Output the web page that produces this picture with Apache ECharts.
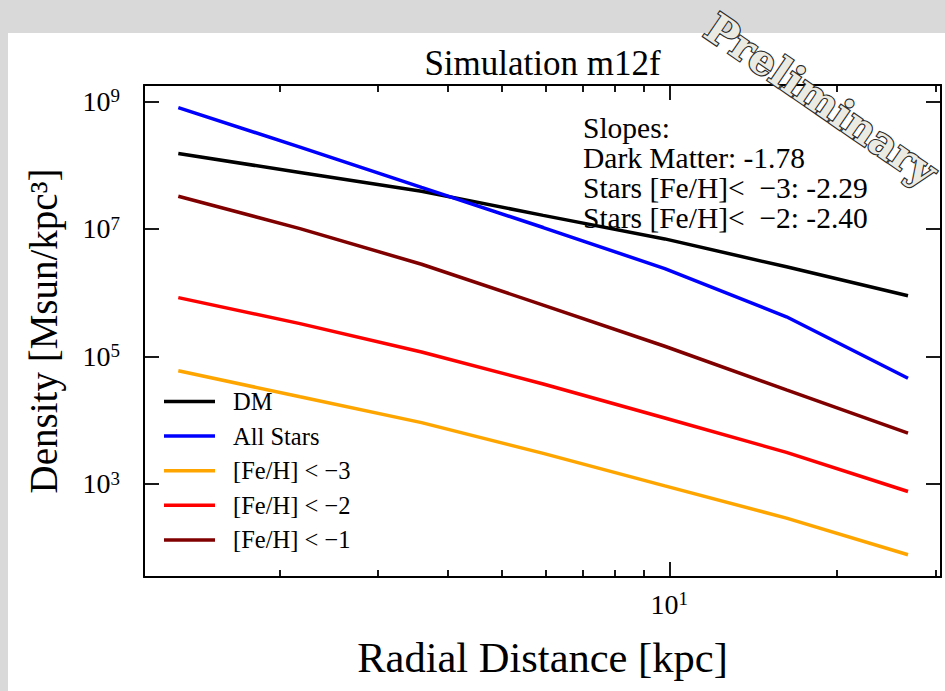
<!DOCTYPE html>
<html><head><meta charset="utf-8">
<script src="https://cdn.jsdelivr.net/npm/echarts@6/dist/echarts.min.js"></script>
<style>html,body{margin:0;padding:0;background:#d9d9d9}#c{width:945px;height:691px}</style>
</head><body><div id="c"></div>
<script>
// ---- data ----
const radius = [1.318, 2.178, 3.597, 5.943, 9.817, 16.22, 26.79];
const dm = [1.52e8, 7.69e7, 3.89e7, 1.63e7, 6.96e6, 2.54e6, 8.91e5];
const allStars = [7.97e8, 1.92e8, 4.47e7, 1.05e7, 2.38e6, 4.18e5, 4.53e4];
const feh3 = [5.96e4, 2.32e4, 9.12e3, 3.00e3, 929, 290, 77];
const feh2 = [8.34e5, 3.26e5, 1.17e5, 3.68e4, 1.08e4, 3.11e3, 757];
const feh1 = [3.25e7, 1.01e7, 2.79e6, 6.37e5, 1.44e5, 2.97e4, 6.22e3];
const seriesNames = ['DM', 'All Stars', '[Fe/H] < \u22123', '[Fe/H] < \u22122', '[Fe/H] < \u22121'];
const xMajorTicks = [10];
const xMinorTicks = [2, 3, 4, 5, 6, 7, 8, 9, 20, 30];
const yMajorTicks = [1e3, 1e5, 1e7, 1e9];
const slopeLines = ['Slopes:', 'Dark Matter: -1.78', 'Stars [Fe/H]<  \u22123: -2.29', 'Stars [Fe/H]<  \u22122: -2.40'];
const titleText = 'Simulation m12f';
const xName = 'Radial Distance [kpc]';
const yName = 'Density [Msun/kpc\u00b3]';
const xRange = [1.144, 30.7];
const yRange = [34.5, 1.81e9];

// ---- chart ----
const chart = echarts.init(document.getElementById('c'), null, {renderer: 'svg', width: 945, height: 691});
const serif = '"Liberation Serif", "Times New Roman", serif';
const K = '#000';
const colors = ['#000000', '#0000ff', '#ffa500', '#ff0000', '#800000'];
const values = [dm, allStars, feh3, feh2, feh1];

function expLabel(v) {
  const e = Math.round(Math.log10(v));
  return '{b|10}{s|' + e + '}';
}
const richLab = {
  b: {fontFamily: serif, fontSize: 28, color: K, lineHeight: 30},
  s: {fontFamily: serif, fontSize: 19, color: K, lineHeight: 18, verticalAlign: 'top'}
};
const box = {left: 144, right: 4, top: 85, bottom: 114};

function xAx(grid, pos, ticks, len, showLine, showLabel) {
  return {
    type: 'log', logBase: 10, gridIndex: grid, position: pos, min: xRange[0], max: xRange[1],
    name: (grid === 0 && pos === 'bottom') ? xName : '',
    nameLocation: 'middle', nameGap: 59,
    nameTextStyle: {fontFamily: serif, fontSize: 42.5, color: K},
    axisLine: {show: showLine, onZero: false, lineStyle: {color: K, width: 2}},
    axisTick: {show: true, inside: true, length: len, lineStyle: {color: K, width: 1.8}, customValues: ticks},
    axisLabel: {show: showLabel, margin: 12, customValues: ticks, formatter: expLabel, rich: richLab},
    splitLine: {show: false}, minorTick: {show: false}, minorSplitLine: {show: false}
  };
}
function yAx(grid, pos, showLabel) {
  return {
    type: 'log', logBase: 10, gridIndex: grid, position: pos, min: yRange[0], max: yRange[1],
    name: showLabel ? yName : '', nameLocation: 'middle', nameGap: 81, nameRotate: 90,
    nameTextStyle: {fontFamily: serif, fontSize: 39, color: K},
    axisLine: {show: true, onZero: false, lineStyle: {color: K, width: 2}},
    axisTick: {show: true, inside: true, length: 15, lineStyle: {color: K, width: 1.8}, customValues: yMajorTicks},
    axisLabel: {show: showLabel, margin: 24, customValues: yMajorTicks, formatter: expLabel, rich: richLab},
    splitLine: {show: false}, minorTick: {show: false}, minorSplitLine: {show: false}
  };
}

const option = {
  animation: false,
  grid: [
    Object.assign({outerBoundsMode: 'none', containLabel: false}, box),
    Object.assign({outerBoundsMode: 'none', containLabel: false}, box)
  ],
  xAxis: [
    xAx(0, 'bottom', xMajorTicks, 15, true, true),
    xAx(0, 'top', xMajorTicks, 15, true, false),
    xAx(1, 'bottom', xMinorTicks, 7, false, false),
    xAx(1, 'top', xMinorTicks, 7, false, false)
  ],
  yAxis: [
    yAx(0, 'left', true),
    yAx(0, 'right', false),
    {type: 'value', gridIndex: 1, min: 0, max: 1, show: false}
  ],
  legend: {
    show: true, orient: 'vertical', left: 164, top: 389, padding: 0,
    itemWidth: 51, itemHeight: 3.5, itemGap: 9.6, icon: 'rect', selectedMode: false,
    data: seriesNames,
    textStyle: {fontFamily: serif, fontSize: 24.5, color: K, lineHeight: 25, padding: [0, 0, 0, 13]}
  },
  series: values.map((arr, i) => ({
    type: 'line', name: seriesNames[i], xAxisIndex: 0, yAxisIndex: 0,
    data: radius.map((r, j) => [r, arr[j]]),
    symbol: 'none', showSymbol: false, smooth: false,
    lineStyle: {color: colors[i], width: 3.5},
    itemStyle: {color: colors[i]},
    emphasis: {disabled: true}
  })),
  graphic: [
    {type: 'rect', silent: true, z: -100, shape: {x: 0, y: 0, width: 945, height: 691}, style: {fill: '#d9d9d9'}},
    {type: 'rect', silent: true, z: -99, shape: {x: 8, y: 33, width: 937, height: 658}, style: {fill: '#ffffff'}},
    {type: 'text', silent: true, z: 10, x: 542.5, y: 63,
      style: {text: titleText, fontFamily: serif, fontSize: 35, fill: K, align: 'center', verticalAlign: 'middle'}},
    {type: 'text', silent: true, z: 10, x: 583, y: 113,
      style: {text: slopeLines.join('\n'), fontFamily: serif, fontSize: 29.5, lineHeight: 30, fill: K, align: 'left', verticalAlign: 'top'}},
    {type: 'text', silent: true, z: 100, x: 821, y: 100, rotation: -0.6,
      style: {text: 'Preliminary', fontFamily: '"DejaVu Serif", serif', fontWeight: 'bold', fontSize: 41, fill: '#ebebe3',
        stroke: '#2b2b2b', lineWidth: 2.4, align: 'center', verticalAlign: 'middle',
        shadowBlur: 3, shadowColor: 'rgba(0,0,0,0.55)', shadowOffsetX: 2, shadowOffsetY: 3}}
  ]
};
chart.setOption(option);
</script>
</body></html>
